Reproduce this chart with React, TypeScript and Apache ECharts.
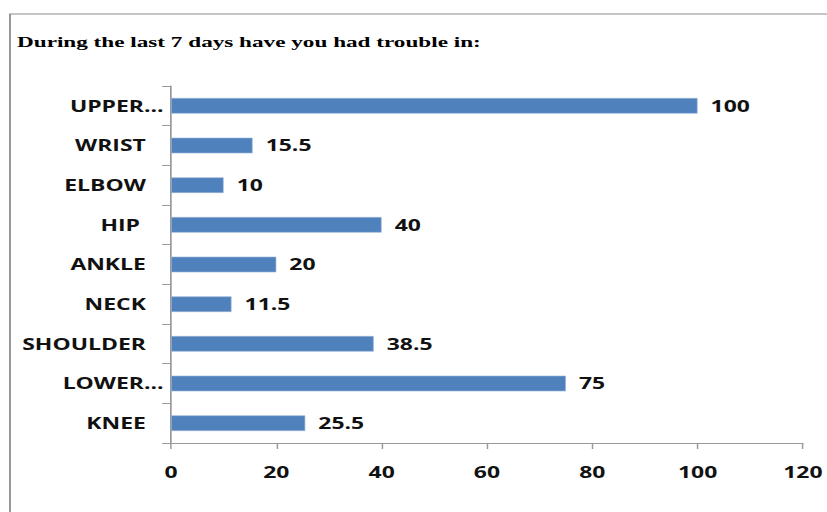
import React, { useEffect, useRef } from "react";
import * as echarts from "echarts";

// Body regions reported, bottom to top as they sit on the category axis
const categories = ["KNEE", "LOWER...", "SHOULDER", "NECK", "ANKLE", "HIP ", "ELBOW", "WRIST", "UPPER..."];
const values = [25.5, 75, 38.5, 11.5, 20, 40, 10, 15.5, 100];
const xTicks = [0, 20, 40, 60, 80, 100, 120];
const titleText = "During the last 7 days have you had trouble in:";

// The chart is laid out narrow and widened horizontally as a whole
const PAGE_W = 827;
const PAGE_H = 512;
const CHART_W = 559;
const STRETCH = PAGE_W / CHART_W;

export default function App() {
  const ref = useRef<HTMLDivElement>(null);

  useEffect(() => {
    if (!ref.current) return;
    const chart = echarts.init(ref.current, undefined, { renderer: "svg" });
    const labelFont = { fontFamily: "Open Sans", fontWeight: "bold" as const, fontSize: 15.5, color: "#111" };
    chart.setOption({
      animation: false,
      backgroundColor: "#fff",
      graphic: [
        {
          type: "rect",
          shape: { x: 10 / STRETCH, y: 14, width: CHART_W + 20, height: PAGE_H + 20 },
          style: { fill: "none", stroke: "#8c8c8c", lineWidth: 1.2 },
          silent: true,
        },
        {
          type: "text",
          x: 17 / STRETCH,
          y: 42,
          scaleX: 1.12,
          style: {
            text: titleText,
            fontFamily: "Liberation Serif",
            fontWeight: "bold",
            fontSize: 14,
            fill: "#000",
            verticalAlign: "middle",
            align: "left",
          },
        },
      ],
      grid: {
        left: 171 / STRETCH,
        right: CHART_W - 808 / STRETCH,
        top: 86,
        bottom: PAGE_H - 443,
        containLabel: false,
      },
      xAxis: {
        type: "value",
        min: xTicks[0],
        max: xTicks[xTicks.length - 1],
        interval: xTicks[1] - xTicks[0],
        splitLine: { show: false },
        axisLine: { show: true, lineStyle: { color: "#9a9a9a", width: 1 } },
        axisTick: { show: true, length: 6, lineStyle: { color: "#9a9a9a" } },
        axisLabel: { ...labelFont, margin: 21 },
      },
      yAxis: {
        type: "category",
        data: categories,
        axisLine: { show: true, lineStyle: { color: "#8a8a8a", width: 1 } },
        axisTick: { show: true, length: 6, lineStyle: { color: "#9a9a9a" } },
        axisLabel: {
          ...labelFont,
          margin: 5,
          // shortened names sit right against the axis, full names keep a gap
          formatter: (v: string) => (v.endsWith("...") ? `{cut|${v}}` : `{full|${v}}`),
          rich: {
            cut: { ...labelFont },
            full: { ...labelFont, padding: [0, 12, 0, 0] },
          },
        },
      },
      series: [
        {
          type: "bar",
          data: values,
          barWidth: 15.5,
          itemStyle: { color: "#4f81bd", borderColor: "#9bb5d8", borderWidth: 0.5 },
          label: {
            show: true,
            position: "right",
            distance: 8.8,
            ...labelFont,
          },
        },
      ],
    });
    return () => chart.dispose();
  }, []);

  return (
    <div
      style={{
        position: "fixed",
        left: 0,
        top: 0,
        width: PAGE_W,
        height: PAGE_H,
        overflow: "hidden",
        background: "#fff",
      }}
    >
      <div
        ref={ref}
        style={{
          width: CHART_W,
          height: PAGE_H,
          transform: `scaleX(${STRETCH})`,
          transformOrigin: "0 0",
        }}
      />
    </div>
  );
}
